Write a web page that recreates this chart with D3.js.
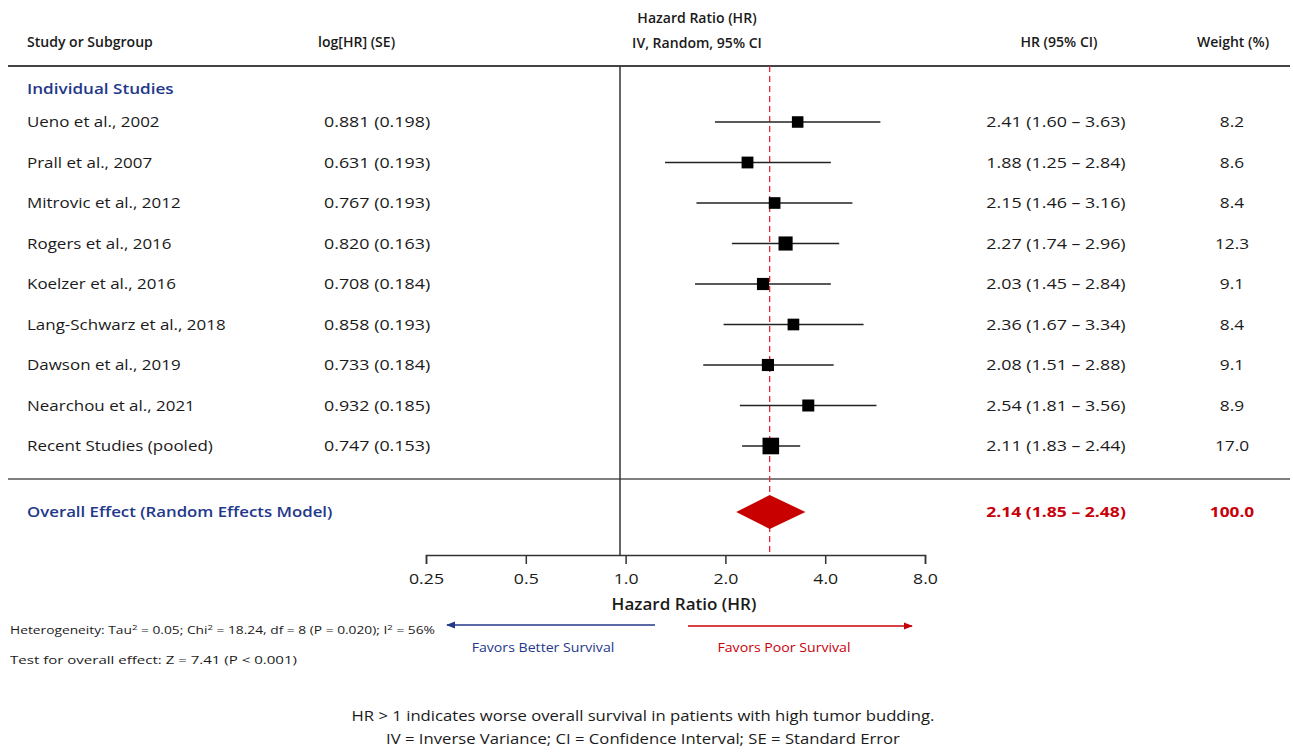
<!DOCTYPE html>
<html>
<head>
<meta charset="utf-8">
<script src="https://cdn.jsdelivr.net/npm/d3@7"></script>
<style>
  body { margin: 0; background: #fff; }
  text { font-family: "Open Sans", "Noto Sans", sans-serif; fill: #1a1a1a; }
</style>
</head>
<body>
<script>
/* Data */
var studies = ["Ueno et al., 2002", "Prall et al., 2007", "Mitrovic et al., 2012", "Rogers et al., 2016",
	"Koelzer et al., 2016", "Lang-Schwarz et al., 2018", "Dawson et al., 2019", "Nearchou et al., 2021",
	"Recent Studies (pooled)"];
var logHR = [0.881, 0.631, 0.767, 0.820, 0.708, 0.858, 0.733, 0.932, 0.747];
var seHR = [0.198, 0.193, 0.193, 0.163, 0.184, 0.193, 0.184, 0.185, 0.153];
var hr = [2.41, 1.88, 2.15, 2.27, 2.03, 2.36, 2.08, 2.54, 2.11];
var lower = [1.60, 1.25, 1.46, 1.74, 1.45, 1.67, 1.51, 1.81, 1.83];
var upper = [3.63, 2.84, 3.16, 2.96, 2.84, 3.34, 2.88, 3.56, 2.44];
var weights = [8.2, 8.6, 8.4, 12.3, 9.1, 8.4, 9.1, 8.9, 17.0];
var overall = {hr: 2.14, lower: 1.85, upper: 2.48, weight: 100.0};
var axisTicks = [0.25, 0.5, 1, 2, 4, 8];

var blue = "#23388a", red = "#c8000a";
var width = 1293, height = 756;

var svg = d3.select("body").append("svg")
	.attr("width", width)
	.attr("height", height);

// widen glyphs a bit, the source picture is stretched horizontally
function stretch(sel, k) {
	sel.each(function() {
		var w = this.getComputedTextLength();
		d3.select(this).attr("textLength", w * k).attr("lengthAdjust", "spacingAndGlyphs");
	});
	return sel;
}

/* Scales */
var x = d3.scaleLog().domain([0.25, 8]).range([340, 1040]);      // marks
var xAxisScale = d3.scaleLog().domain([0.25, 8]).range([426, 925]); // printed axis
var y = d3.scalePoint().domain(studies).range([122, 446]);
var boxSize = d3.scaleSqrt().domain([0, 17]).range([0, 16.6]);

var topY = 66, sepY = 479, overallY = 512, axisY = 555;
var col = {study: 27, loghr: 324, ci: 1056, weight: 1232};

/* Header */
var header = svg.append("g").style("font-weight", 600).style("font-size", "13.5px");
header.append("text").attr("x", col.study).attr("y", 47).text("Study or Subgroup");
header.append("text").attr("x", col.loghr - 6).attr("y", 47).text("log[HR] (SE)");
header.append("text").attr("x", 697).attr("y", 23).attr("text-anchor", "middle").text("Hazard Ratio (HR)");
header.append("text").attr("x", 697).attr("y", 48).attr("text-anchor", "middle").text("IV, Random, 95% CI");
header.append("text").attr("x", 1059).attr("y", 47).attr("text-anchor", "middle").text("HR (95% CI)");
header.append("text").attr("x", 1233).attr("y", 47).attr("text-anchor", "middle").text("Weight (%)");
stretch(header.selectAll("text"), 1.04);

svg.append("line").attr("x1", 8).attr("x2", 1290).attr("y1", topY).attr("y2", topY)
	.attr("stroke", "#444").attr("stroke-width", 2);
svg.append("line").attr("x1", 8).attr("x2", 1290).attr("y1", sepY).attr("y2", sepY)
	.attr("stroke", "#555").attr("stroke-width", 1.6);

/* Reference lines */
svg.append("line").attr("x1", x(1)).attr("x2", x(1)).attr("y1", topY).attr("y2", axisY)
	.attr("stroke", "#333").attr("stroke-width", 1.5);
svg.append("line").attr("x1", x(overall.hr) - 4).attr("x2", x(overall.hr) - 4).attr("y1", topY).attr("y2", axisY)
	.attr("stroke", "#e2283a").attr("stroke-width", 1.3).attr("stroke-dasharray", "6,4");

stretch(svg.append("text").attr("x", col.study).attr("y", 94)
	.style("font-size", "15px").style("font-weight", 600).style("fill", blue)
	.text("Individual Studies"), 1.14);

/* Study rows */
var rows = svg.selectAll("g.row")
	.data(studies)
	.enter().append("g")
		.attr("class", "row")
		.attr("transform", function(d) { return "translate(0," + y(d) + ")"; });

stretch(rows.append("text").attr("x", col.study).attr("dy", "0.35em").style("font-size", "15px")
	.text(function(d) { return d; }), 1.13);
stretch(rows.append("text").attr("x", col.loghr).attr("dy", "0.35em").style("font-size", "15px")
	.text(function(d, i) { return logHR[i].toFixed(3) + " (" + seHR[i].toFixed(3) + ")"; }), 1.19);
stretch(rows.append("text").attr("x", col.ci).attr("dy", "0.35em").attr("text-anchor", "middle").style("font-size", "15px")
	.text(function(d, i) { return hr[i].toFixed(2) + " (" + lower[i].toFixed(2) + " \u2013 " + upper[i].toFixed(2) + ")"; }), 1.19);
stretch(rows.append("text").attr("x", col.weight).attr("dy", "0.35em").attr("text-anchor", "middle").style("font-size", "15px")
	.text(function(d, i) { return weights[i].toFixed(1); }), 1.15);

rows.append("line")
	.attr("x1", function(d, i) { return x(lower[i]); })
	.attr("x2", function(d, i) { return x(upper[i]); })
	.attr("stroke", "#222").attr("stroke-width", 1.5);
rows.append("rect")
	.attr("x", function(d, i) { return x(hr[i]) - boxSize(weights[i]) / 2; })
	.attr("y", function(d, i) { return -boxSize(weights[i]) / 2; })
	.attr("width", function(d, i) { return boxSize(weights[i]); })
	.attr("height", function(d, i) { return boxSize(weights[i]); })
	.attr("fill", "#000");

/* Overall effect */
stretch(svg.append("text").attr("x", col.study).attr("y", overallY).attr("dy", "0.35em")
	.style("font-size", "15px").style("font-weight", 600).style("fill", blue)
	.text("Overall Effect (Random Effects Model)"), 1.12);
stretch(svg.append("text").attr("x", col.ci).attr("y", overallY).attr("dy", "0.35em").attr("text-anchor", "middle")
	.style("font-size", "15px").style("font-weight", 700).style("fill", red)
	.text(overall.hr.toFixed(2) + " (" + overall.lower.toFixed(2) + " \u2013 " + overall.upper.toFixed(2) + ")"), 1.17);
stretch(svg.append("text").attr("x", col.weight).attr("y", overallY).attr("dy", "0.35em").attr("text-anchor", "middle")
	.style("font-size", "15px").style("font-weight", 700).style("fill", red)
	.text(overall.weight.toFixed(1)), 1.15);
svg.append("polygon")
	.attr("points", [[x(overall.lower) - 8, overallY], [x(overall.hr) - 4, overallY - 17],
		[x(overall.upper) + 2, overallY], [x(overall.hr) - 4, overallY + 17]].join(" "))
	.attr("fill", "#c80000");

/* Axis */
var axis = svg.append("g")
	.attr("transform", "translate(0," + axisY + ")")
	.call(d3.axisBottom(xAxisScale).tickValues(axisTicks).tickSize(9).tickPadding(9)
		.tickFormat(function(d) { return d < 1 ? String(d) : d.toFixed(1); }));
axis.select(".domain").attr("stroke", "#333").attr("stroke-width", 1.5);
axis.selectAll(".tick line").attr("stroke", "#333").attr("stroke-width", 1.5);
stretch(axis.selectAll(".tick text").style("font-size", "15px").style("fill", "#1a1a1a")
	.style("font-family", "'Open Sans', sans-serif"), 1.18);

stretch(svg.append("text").attr("x", 684).attr("y", 610).attr("text-anchor", "middle")
	.style("font-size", "15.5px").style("font-weight", 600).text("Hazard Ratio (HR)"), 1.1);

/* Arrows */
var defs = svg.append("defs");
[["arrowBlue", blue], ["arrowRed", red]].forEach(function(a) {
	defs.append("marker").attr("id", a[0]).attr("viewBox", "0 0 10 10")
		.attr("refX", 9).attr("refY", 5).attr("markerWidth", 6).attr("markerHeight", 6)
		.attr("orient", "auto-start-reverse")
		.append("path").attr("d", "M0,1 L10,5 L0,9 Z").attr("fill", a[1]);
});
svg.append("line").attr("x1", 655).attr("x2", 447).attr("y1", 625).attr("y2", 625)
	.attr("stroke", blue).attr("stroke-width", 1.5).attr("marker-end", "url(#arrowBlue)");
svg.append("line").attr("x1", 688).attr("x2", 912).attr("y1", 626).attr("y2", 626)
	.attr("stroke", red).attr("stroke-width", 1.5).attr("marker-end", "url(#arrowRed)");
stretch(svg.append("text").attr("x", 543).attr("y", 652).attr("text-anchor", "middle")
	.style("font-size", "12.5px").style("font-weight", 500).style("fill", blue).text("Favors Better Survival"), 1.13);
stretch(svg.append("text").attr("x", 784).attr("y", 652).attr("text-anchor", "middle")
	.style("font-size", "12.5px").style("font-weight", 500).style("fill", red).text("Favors Poor Survival"), 1.13);

/* Statistics */
svg.append("text").attr("x", 10).attr("y", 634).style("font-size", "11.5px").style("font-weight", 500)
	.attr("textLength", 425).attr("lengthAdjust", "spacingAndGlyphs")
	.html("Heterogeneity: Tau<tspan dy='-4' font-size='8'>2</tspan><tspan dy='4'> = 0.05; Chi</tspan><tspan dy='-4' font-size='8'>2</tspan><tspan dy='4'> = 18.24, df = 8 (P = 0.020); I</tspan><tspan dy='-4' font-size='8'>2</tspan><tspan dy='4'> = 56%</tspan>");
svg.append("text").attr("x", 10).attr("y", 664).style("font-size", "11.5px").style("font-weight", 500)
	.attr("textLength", 287).attr("lengthAdjust", "spacingAndGlyphs")
	.text("Test for overall effect: Z = 7.41 (P < 0.001)");

/* Footnote */
var notes = svg.append("g").style("font-size", "14px");
notes.append("text").attr("x", 643).attr("y", 721).attr("text-anchor", "middle")
	.text("HR > 1 indicates worse overall survival in patients with high tumor budding.");
notes.append("text").attr("x", 643).attr("y", 744).attr("text-anchor", "middle")
	.text("IV = Inverse Variance; CI = Confidence Interval; SE = Standard Error");
stretch(notes.selectAll("text"), 1.19);
</script>
</body>
</html>
